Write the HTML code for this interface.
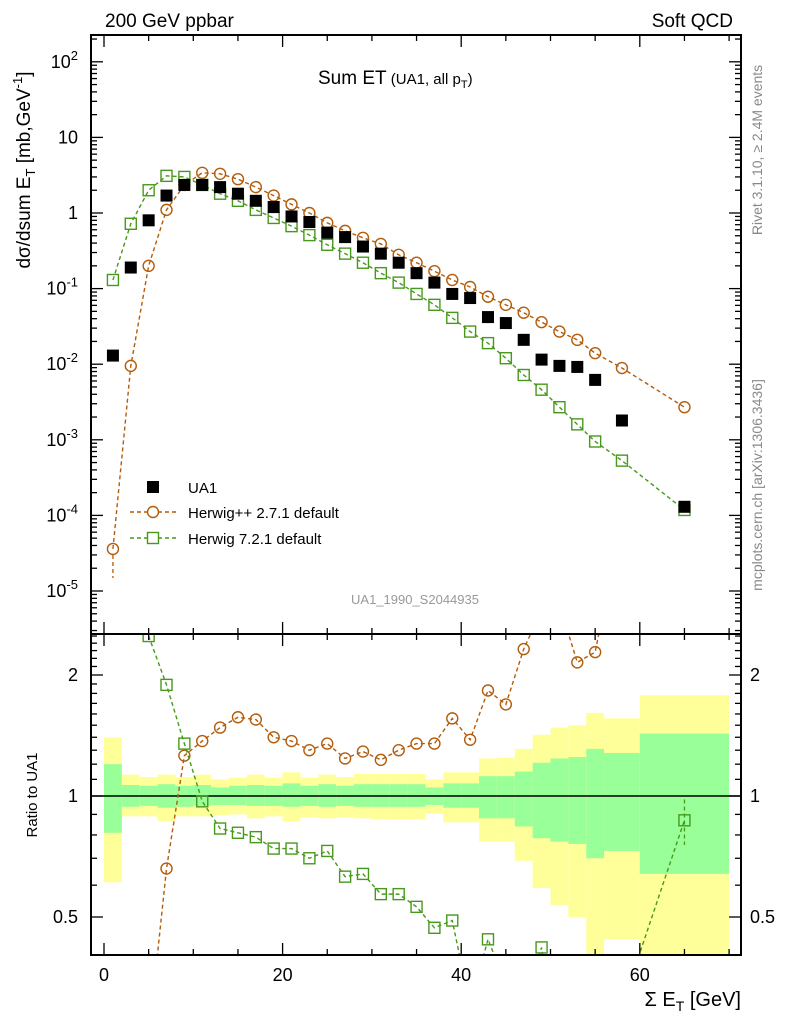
<!DOCTYPE html>
<html><head><meta charset="utf-8"><style>
html,body{margin:0;padding:0;background:#fff;width:786px;height:1024px;overflow:hidden}
#wrap{position:relative;width:786px;height:1024px;overflow:hidden}
svg{display:block;font-family:"Liberation Sans",Arial,sans-serif;position:absolute;left:0;top:0}
</style></head><body>
<div id="wrap">
<svg id="c" width="786" height="1024" viewBox="0 0 786 1024"></svg>
<script>
const xs=[1,3,5,7,9,11,13,15,17,19,21,23,25,27,29,31,33,35,37,39,41,43,45,47,49,51,53,55,58,65];
const binEdges=[0,2,4,6,8,10,12,14,16,18,20,22,24,26,28,30,32,34,36,38,40,42,44,46,48,50,52,54,56,60,70];
const ua1=[0.013,0.19,0.8,1.7,2.35,2.35,2.2,1.8,1.45,1.2,0.9,0.76,0.55,0.48,0.36,0.29,0.22,0.16,0.12,0.085,0.075,0.042,0.035,0.021,0.0115,0.0095,0.0092,0.0062,0.0018,0.00013];
const hwpp=[3.6e-5,0.0095,0.2,1.1,2.35,3.4,3.3,2.8,2.2,1.7,1.3,1.0,0.74,0.58,0.47,0.39,0.28,0.22,0.17,0.13,0.105,0.078,0.061,0.048,0.036,0.027,0.021,0.014,0.0089,0.0027];
const hw7=[0.13,0.72,2.0,3.1,3.0,2.35,1.8,1.45,1.1,0.86,0.67,0.51,0.38,0.29,0.22,0.16,0.12,0.085,0.061,0.041,0.027,0.019,0.012,0.0072,0.0046,0.0027,0.0016,0.00095,0.00053,0.000118];
const rHwpp=[0.003,0.05,0.25,0.66,1.26,1.37,1.48,1.57,1.55,1.40,1.37,1.30,1.35,1.24,1.29,1.23,1.30,1.35,1.35,1.56,1.38,1.83,1.69,2.32,2.9,3.0,2.15,2.28,4.9,20];
const rHw7=[10,3.8,2.5,1.89,1.35,0.97,0.83,0.81,0.79,0.74,0.74,0.70,0.73,0.63,0.64,0.57,0.57,0.53,0.47,0.49,0.3,0.44,0.34,0.3,0.42,0.2,0.15,0.1,0.3,0.87];
const yelUp=[1.40,1.13,1.115,1.13,1.115,1.13,1.10,1.11,1.13,1.11,1.145,1.11,1.13,1.115,1.135,1.135,1.135,1.135,1.10,1.145,1.145,1.24,1.245,1.31,1.42,1.48,1.50,1.61,1.56,1.78];
const grnUp=[1.20,1.065,1.06,1.07,1.06,1.065,1.05,1.06,1.065,1.06,1.075,1.06,1.07,1.06,1.07,1.07,1.07,1.07,1.05,1.075,1.075,1.12,1.12,1.15,1.21,1.24,1.25,1.31,1.28,1.43];
const grnDn=[0.81,0.94,0.945,0.935,0.94,0.945,0.95,0.95,0.945,0.945,0.94,0.945,0.94,0.945,0.94,0.94,0.94,0.94,0.95,0.935,0.935,0.88,0.88,0.84,0.785,0.77,0.76,0.70,0.73,0.64];
const yelDn=[0.61,0.89,0.89,0.865,0.89,0.89,0.895,0.90,0.88,0.89,0.865,0.885,0.88,0.885,0.88,0.875,0.875,0.875,0.905,0.86,0.86,0.77,0.77,0.69,0.59,0.535,0.50,0.3,0.44,0.3];
const xTicks=[0,20,40,60];
const yTicksMain=[2,1,0,-1,-2,-3,-4,-5];
const yTicksRatio=[2,1,0.5];

const NS='http://www.w3.org/2000/svg';
const svg=document.getElementById('c');
function el(tag,attrs,parent){const e=document.createElementNS(NS,tag);for(const k in attrs)e.setAttribute(k,attrs[k]);(parent||svg).appendChild(e);return e;}
const L=91,R=741,T=35,MB=634,RB=955;
const X=v=>104+v*8.93;
const Y=v=>213-Math.log10(v)*75.6;
const YR=v=>796-Math.log2(v)*121;
const ORG='#b35c0a',GRN='#47991b';

const defs=el('defs',{});
const cp1=el('clipPath',{id:'cm'},defs);el('rect',{x:L,y:T,width:R-L,height:MB-T},cp1);
const cp2=el('clipPath',{id:'cr'},defs);el('rect',{x:L,y:MB,width:R-L,height:RB-MB},cp2);

const gR=el('g',{'clip-path':'url(#cr)'});

for(let i=0;i<xs.length;i++){
  const x0=X(binEdges[i]),x1=X(binEdges[i+1]);
  const y=el('rect',{x:x0,y:YR(yelUp[i]),width:x1-x0,height:YR(yelDn[i])-YR(yelUp[i]),fill:'#ffff99'},gR);
  
  const g=el('rect',{x:x0,y:YR(grnUp[i]),width:x1-x0,height:YR(grnDn[i])-YR(grnUp[i]),fill:'#99ff99'},gR);
  
}
el('line',{x1:L,x2:R,y1:YR(1),y2:YR(1),stroke:'#000','stroke-width':1.5},gR);

function series(g,vals,Yf,color,shape,name){
  const pts=xs.map((x,i)=>X(x)+','+Yf(vals[i])).join(' ');
  const pl=el('polyline',{points:pts,fill:'none',stroke:color,'stroke-width':1.4,'stroke-dasharray':'4,3'},g);
  
  xs.forEach((x,i)=>{
    const cx=X(x),cy=Yf(vals[i]);let m;
    if(shape==='c')m=el('circle',{cx:cx,cy:cy,r:5.5,fill:'none',stroke:color,'stroke-width':1.4},g);
    else m=el('rect',{x:cx-5.5,y:cy-5.5,width:11,height:11,fill:'none',stroke:color,'stroke-width':1.4},g);
    
  });
}
series(gR,rHwpp,YR,ORG,'c','herwigpp-ratio');
series(gR,rHw7,YR,GRN,'s','herwig7-ratio');
el('line',{x1:X(65),x2:X(65),y1:YR(0.98),y2:YR(0.755),stroke:GRN,'stroke-width':1.3,'stroke-dasharray':'4,3'},gR);

const gM=el('g',{'clip-path':'url(#cm)'});

series(gM,hwpp,Y,ORG,'c','herwigpp');
series(gM,hw7,Y,GRN,'s','herwig7');
el('line',{x1:X(1),x2:X(1),y1:Y(3.6e-5)+6,y2:578,stroke:ORG,'stroke-width':1.3,'stroke-dasharray':'4,3'},gM);
xs.forEach((x,i)=>{const m=el('rect',{x:X(x)-6,y:Y(ua1[i])-6,width:12,height:12,fill:'#000'},gM);
  });

el('rect',{x:L,y:T,width:R-L,height:MB-T,fill:'none',stroke:'#000','stroke-width':2});
el('rect',{x:L,y:MB,width:R-L,height:RB-MB,fill:'none',stroke:'#000','stroke-width':2});

function tick(x1,y1,x2,y2){el('line',{x1,y1,x2,y2,stroke:'#000','stroke-width':1.3});}
for(let v=0;v<=70;v+=5){const x=X(v),len=(v%20===0)?12:6;
  tick(x,MB,x,MB-len);tick(x,T,x,T+len);tick(x,RB,x,RB-len);tick(x,MB,x,MB+len);}
xTicks.forEach(v=>{const t=el('text',{x:X(v),y:981,'font-size':18,'text-anchor':'middle'});t.textContent=v;
  });
for(let e=-6;e<=2;e++){for(let k=1;k<10;k++){const v=k*Math.pow(10,e);const y=Y(v);if(y<T||y>MB)continue;
  const len=k===1?12:6;tick(L,y,L+len,y);tick(R,y,R-len,y);}}
yTicksMain.forEach(e=>{const y=Y(Math.pow(10,e));let t;
  t=el('text',{x:78,y:y+6,'font-size':18,'text-anchor':'end'});
  if(e===0||e===1){t.textContent=Math.pow(10,e);}
  else{t.innerHTML='10<tspan dy="-8" font-size="13">'+e+'</tspan>';}
  });
const rMinor=[0.4,0.5,0.6,0.7,0.8,0.9,1,1.1,1.2,1.3,1.4,1.5,1.6,1.7,1.8,1.9,2,2.1,2.2,2.3,2.4,2.5];
rMinor.forEach(v=>{const y=YR(v);if(y<MB||y>RB)return;const len=(v===1||v===2||v===0.5)?12:6;tick(L,y,L+len,y);tick(R,y,R-len,y);});
yTicksRatio.forEach(v=>{const y=YR(v);
  const a=el('text',{x:78,y:y+6,'font-size':18,'text-anchor':'end'});a.textContent=v;
  
  const b=el('text',{x:750,y:y+6,'font-size':18});b.textContent=v;
  });
</script>
<svg width="786" height="1024">
 <g font-family="Liberation Sans, Arial, sans-serif">
  <text x="105" y="27" font-size="19">200 GeV ppbar</text>
  <text x="733" y="27" font-size="19" text-anchor="end">Soft QCD</text>
  <text x="318" y="84" font-size="19">Sum ET<tspan font-size="15"> (UA1, all p</tspan><tspan font-size="11" dy="4">T</tspan><tspan font-size="15" dy="-4">)</tspan></text>
  <text x="415" y="604" font-size="13" fill="#999" text-anchor="middle">UA1_1990_S2044935</text>
  <text transform="translate(30,170) rotate(-90)" font-size="19" text-anchor="middle">dσ/dsum E<tspan font-size="13" dy="5">T</tspan><tspan dy="-5"> [mb,GeV</tspan><tspan font-size="13" dy="-8">-1</tspan><tspan dy="8">]</tspan></text>
  <text transform="translate(37,795) rotate(-90)" font-size="15" text-anchor="middle">Ratio to UA1</text>
  <text x="741" y="1006" font-size="20" text-anchor="end">Σ E<tspan font-size="14" dy="5">T</tspan><tspan dy="-5"> [GeV]</tspan></text>
  <text transform="translate(762,150) rotate(-90)" font-size="14" fill="#888" text-anchor="middle">Rivet 3.1.10, ≥ 2.4M events</text>
  <text transform="translate(762,485) rotate(-90)" font-size="14" fill="#888" text-anchor="middle">mcplots.cern.ch [arXiv:1306.3436]</text>
  <g>
   <rect x="147" y="481" width="12" height="12" fill="#000"/>
   <text x="188" y="493" font-size="15">UA1</text>
   <line x1="130" x2="178" y1="512" y2="512" stroke="#b35c0a" stroke-width="1.4" stroke-dasharray="4,3"/>
   <circle cx="153" cy="512" r="5.5" fill="#fff" stroke="#b35c0a" stroke-width="1.4"/>
   <text x="188" y="518" font-size="15">Herwig++ 2.7.1 default</text>
   <line x1="130" x2="178" y1="538" y2="538" stroke="#47991b" stroke-width="1.4" stroke-dasharray="4,3"/>
   <rect x="147.5" y="532.5" width="11" height="11" fill="#fff" stroke="#47991b" stroke-width="1.4"/>
   <text x="188" y="544" font-size="15">Herwig 7.2.1 default</text>
  </g>
 </g>
</svg>
</div>
</body></html>
